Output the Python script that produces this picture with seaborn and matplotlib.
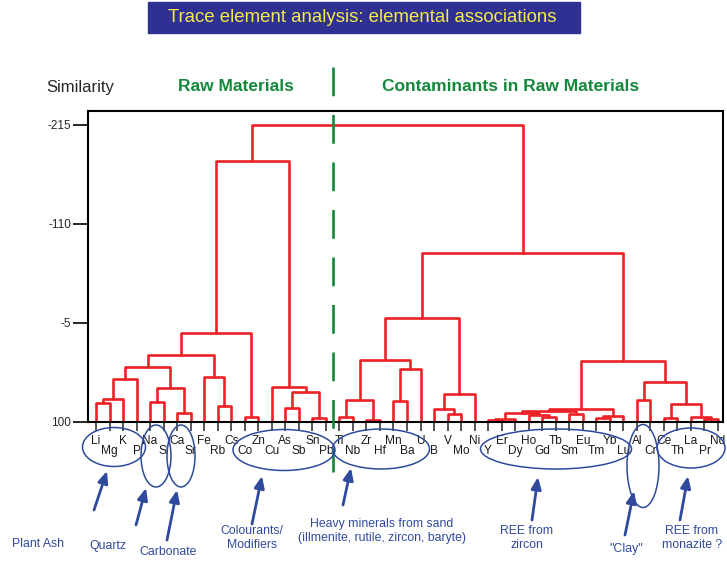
import matplotlib

matplotlib.use("Agg")

import matplotlib.pyplot as plt
import pandas as pd
import seaborn as sns
from matplotlib.patches import Ellipse, Rectangle

# leaf order along the x axis
leaves = [
    "Li", "Mg", "K", "P", "Na", "Si", "Ca", "Sr", "Fe", "Rb", "Cs", "Co", "Zn",
    "Cu", "As", "Sb", "Sn", "Pb", "Ti", "Nb", "Zr", "Hf", "Mn", "Ba", "U", "B",
    "V", "Mo", "Ni", "Y", "Er", "Dy", "Ho", "Gd", "Tb", "Sm", "Eu", "Tm", "Yb",
    "Lu", "Al", "Cr", "Ce", "Th", "La", "Pr", "Nd",
]

# merges: node a + node b joined at similarity height (mK = result of merge K)
merge_a = [
    "Li", "m0", "m1", "Na", "Ca", "m3", "m2", "Rb", "Fe", "m6", "Co", "m9",
    "As", "Sn", "m12", "Cu", "m11", "Ti", "Zr", "m17", "Mn", "m20", "m19", "V",
    "B", "m24", "m22", "Y", "m27", "Gd", "Ho", "m28", "Sm", "m31", "Tm", "m34",
    "m33", "Al", "Ce", "Pr", "La", "m38", "m37", "m36", "m26", "m16",
]
merge_b = [
    "Mg", "K", "P", "Si", "Sr", "m4", "m5", "Cs", "m7", "m8", "Zn", "m10",
    "Sb", "Pb", "m13", "m14", "m15", "Nb", "Hf", "m18", "Ba", "U", "m21", "Mo",
    "m23", "Ni", "m25", "Er", "Dy", "Tb", "m29", "m30", "Eu", "m32", "Yb", "Lu",
    "m35", "Cr", "Th", "Nd", "m39", "m40", "m41", "m42", "m43", "m44",
]
merge_height = [
    79.5, 75.6, 54.2, 78.8, 90.8, 64.3, 41.3, 83.0, 52.6, 28.9, 95.0, 5.3,
    85.5, 96.1, 67.9, 63.2, -176.8, 95.0, 97.9, 76.7, 77.4, 43.8, 34.2, 91.5,
    86.2, 70.6, -10.6, 97.9, 96.3, 95.2, 92.6, 90.5, 91.5, 88.3, 95.8, 93.6,
    86.7, 76.7, 95.4, 97.1, 94.7, 80.9, 57.3, 35.0, -78.9, -215.0,
]
leaf_level = 100.0
ytick_values = [-215, -110, -5, 100]

W, H = 727, 562
BLUE = "#2f4a9c"
GREEN = "#13873a"
RED = "#ec2227"


def fpos(x, y):
    """Convert top-left pixel position to figure fraction."""
    return x / W, 1 - y / H


def build_links() -> pd.DataFrame:
    pos = {name: i for i, name in enumerate(leaves)}
    hgt = {name: leaf_level for name in leaves}
    rows = []
    for k, (a, b, h) in enumerate(zip(merge_a, merge_b, merge_height)):
        xa, xb = pos[a], pos[b]
        rows += [(k, xa, hgt[a]), (k, xa, h), (k, xb, h), (k, xb, hgt[b])]
        pos[f"m{k}"] = (xa + xb) / 2
        hgt[f"m{k}"] = h
    return pd.DataFrame(rows, columns=["link", "x", "y"])


def main() -> None:
    sns.set_style("white")
    plt.rcParams["font.family"] = ["Liberation Sans", "DejaVu Sans"]

    fig = plt.figure(figsize=(W / 100, H / 100), dpi=100)
    ax = fig.add_axes([88 / W, 1 - 422 / H, (723 - 88) / W, (422 - 111) / H])

    links = build_links()
    sns.lineplot(
        data=links, x="x", y="y", units="link", estimator=None, sort=False,
        color=RED, linewidth=1.9, ax=ax, legend=False,
    )

    ax.set_xlim(-0.59, 46.37)
    ax.set_ylim(100, -229.8)
    ax.set_xlabel("")
    ax.set_ylabel("")
    ax.set_yticks(ytick_values)
    ax.set_yticklabels([str(v) for v in ytick_values], fontsize=8.5)
    ax.set_xticks(range(len(leaves)))
    ax.set_xticklabels(leaves, fontsize=8.6, color="#1a1a1a")
    ax.tick_params(axis="y", direction="out", length=10.5, width=1.4, pad=1.5, left=True)
    ax.tick_params(axis="x", direction="out", length=6.5, width=1.1, bottom=True)
    for i, tick in enumerate(ax.xaxis.get_major_ticks()):
        tick.set_pad(3.0 if i % 2 == 0 else 10.0)
    for spine in ax.spines.values():
        spine.set_color("black")
        spine.set_linewidth(1.5)

    # dashed divider between raw materials and contaminants
    ax.plot([17.5, 17.5], [-276.5, 153.0], color=GREEN, linewidth=1.9,
            linestyle=(0, (10.9, 7.1)), clip_on=False, zorder=5)

    # title banner
    fig.add_artist(Rectangle(fpos(148, 33), 432 / W, 31 / H,
                             transform=fig.transFigure, color="#2e3192"))
    fig.text(*fpos(362, 18), "Trace element analysis: elemental associations",
             ha="center", va="center", fontsize=13.4, color="#f4ea4c")

    fig.text(*fpos(80, 88), "Similarity", ha="center", va="center", fontsize=12)
    fig.text(*fpos(236, 86), "Raw Materials", ha="center", va="center",
             fontsize=12.5, fontweight="bold", color=GREEN)
    fig.text(*fpos(511, 86), "Contaminants in Raw Materials", ha="center",
             va="center", fontsize=12.5, fontweight="bold", color=GREEN)

    # group ellipses (center x, center y, width, height in pixels)
    ellipses = [
        (114, 447, 63, 39), (156, 456, 30, 62), (181, 456, 28, 62),
        (284, 450, 102, 41), (381, 449, 97, 40), (556, 449, 151, 40),
        (643, 466, 32, 83), (691, 448, 68, 40),
    ]
    for cx, cy, ew, eh in ellipses:
        fig.add_artist(Ellipse(fpos(cx, cy), ew / W, eh / H, transform=fig.transFigure,
                               fill=False, edgecolor=BLUE, linewidth=1.1))

    # arrows (tail -> head in pixels)
    arrows = [
        ((94, 510), (107, 471)), ((136, 525), (146, 488)), ((167, 540), (177, 490)),
        ((252, 524), (262, 476)), ((343, 505), (351, 468)), ((532, 520), (538, 477)),
        ((625, 535), (634, 491)), ((680, 520), (688, 476)),
    ]
    for tail, head in arrows:
        ax.annotate("", xy=fpos(*head), xytext=fpos(*tail), xycoords="figure fraction",
                    textcoords="figure fraction",
                    arrowprops=dict(arrowstyle="-|>,head_length=0.7,head_width=0.3",
                                    color=BLUE, linewidth=2.0, shrinkA=0, shrinkB=0))

    notes = [
        (38, 544, "Plant Ash"), (108, 546, "Quartz"), (168, 552, "Carbonate"),
        (252, 538, "Colourants/\nModifiers"),
        (382, 531, "Heavy minerals from sand\n(illmenite, rutile, zircon, baryte)"),
        (527, 538, "REE from\nzircon"), (626, 549, "\"Clay\""),
        (692, 538, "REE from\nmonazite ?"),
    ]
    for nx, ny, text in notes:
        fig.text(*fpos(nx, ny), text, ha="center", va="center", fontsize=8.8,
                 color=BLUE, linespacing=1.25)

    fig.savefig("out.png", dpi=100)
    plt.close(fig)


if __name__ == "__main__":
    main()
